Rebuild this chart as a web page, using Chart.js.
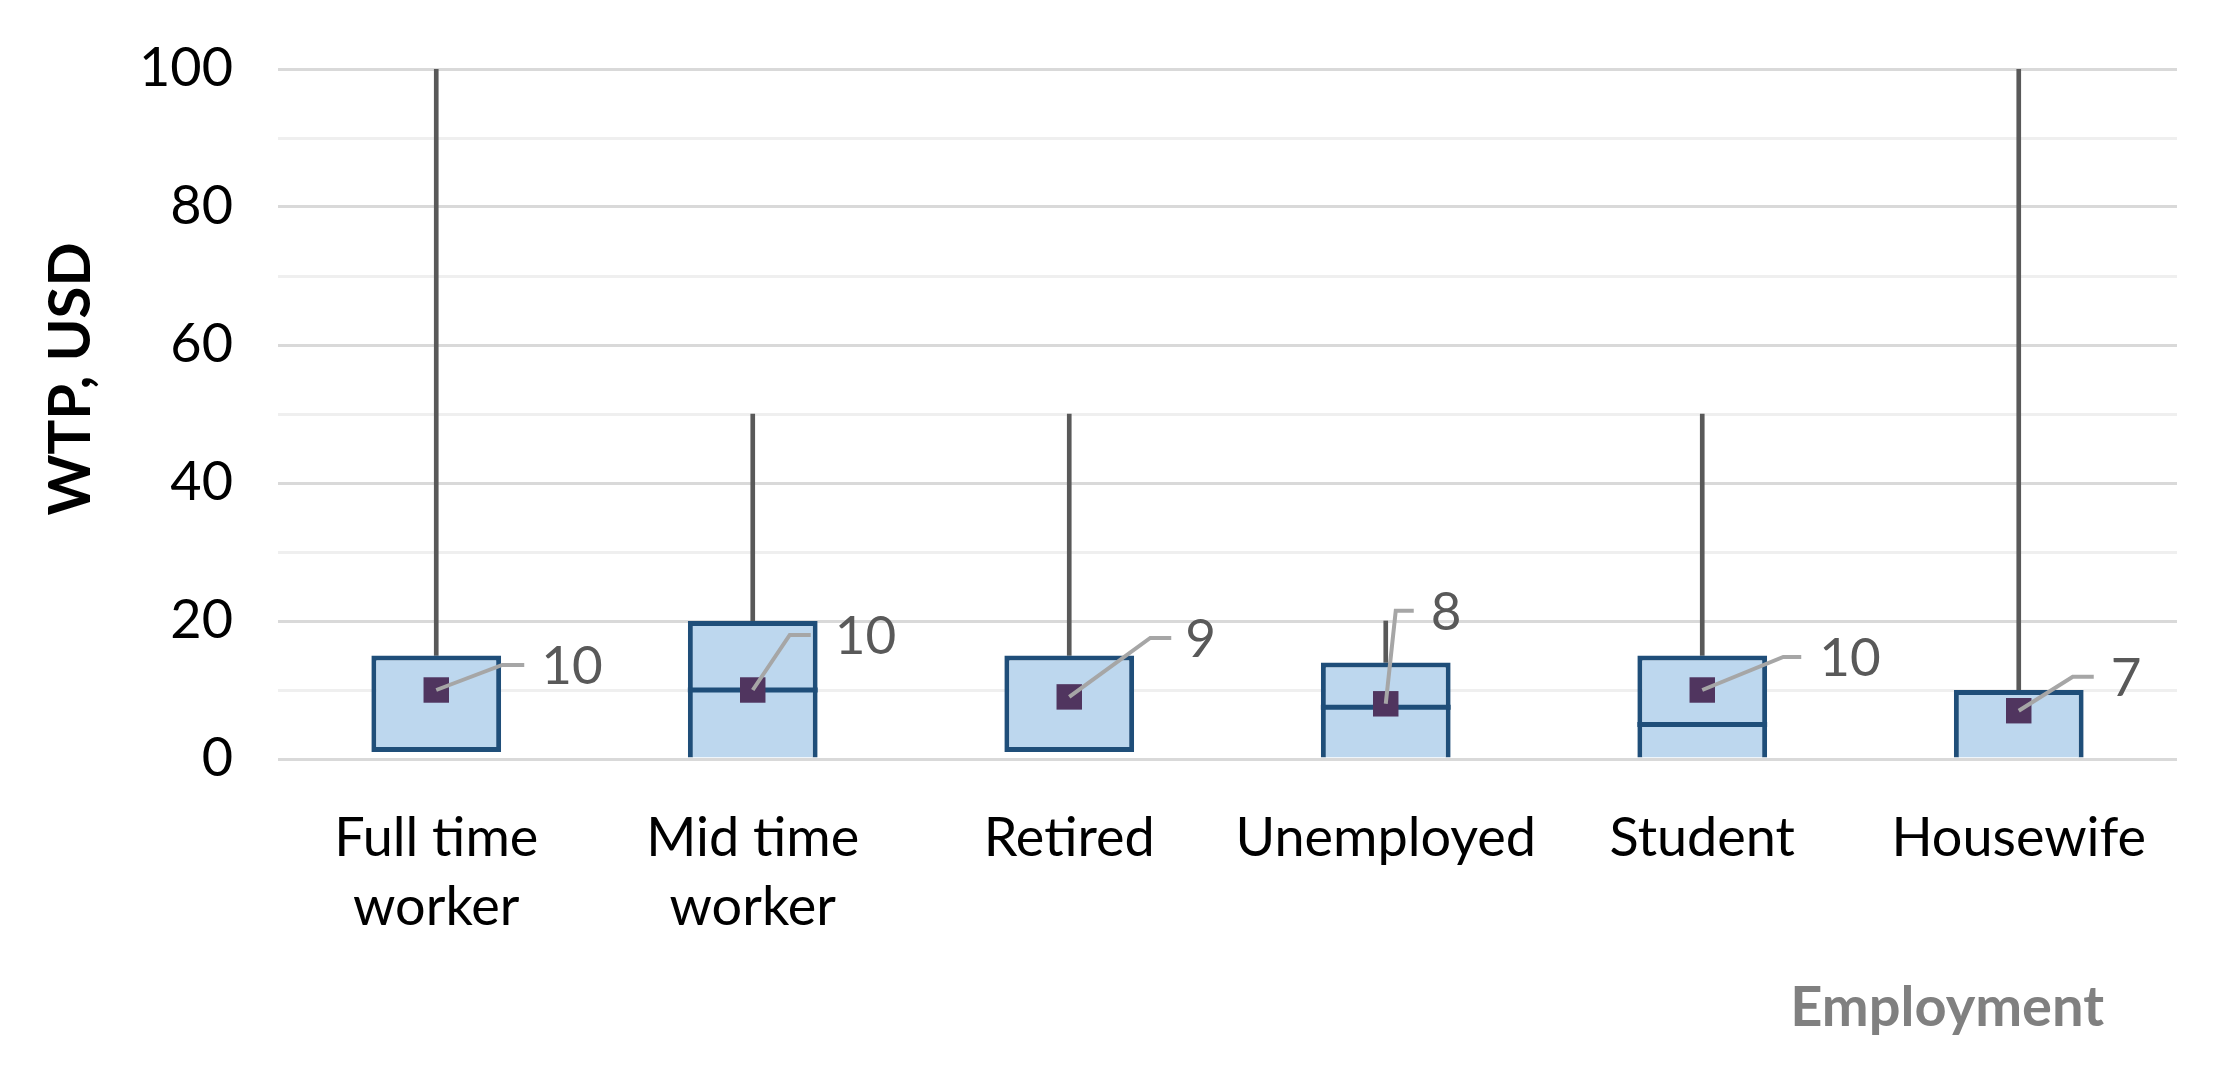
<!DOCTYPE html>
<html>
<head>
<meta charset="utf-8">
<script src="https://cdn.jsdelivr.net/npm/chart.js@4.4.1/dist/chart.umd.min.js"></script>
<style>
  body { margin: 0; background: #fff; }
</style>
</head>
<body>
<canvas id="box-chart" width="2217" height="1074"></canvas>
<script>
// dati
let categories = [['Full time', 'worker'], ['Mid time', 'worker'], 'Retired', 'Unemployed', 'Student', 'Housewife'];
let q1 = [1, 0, 1, 0, 0, 0];
let medians = [1, 10, 1, 7.5, 5, 0];
let q3 = [15, 20, 15, 14, 15, 10];
let maxs = [100, 50, 50, 20, 50, 100];
let means = [10, 10, 9, 8, 10, 7];
let yLabels = [0, 20, 40, 60, 80, 100];

// leader lines of the mean labels: elbow dx, elbow dy, end dx, text dx (pixels)
let leaders = [
    [66, -25, 88, 105],
    [37, -55, 58, 82],
    [81, -59, 102, 116],
    [10, -93, 28, 45],
    [81, -33, 99, 117],
    [54, -34, 75, 92]
];

let font = 'Lato';

let extras = {
    id: 'extras',
    afterDatasetDraw(chart, args) {
        if (args.index !== 0) return;
        let ctx = chart.ctx;
        let y = chart.scales.y;
        args.meta.data.forEach((bar, i) => {
            if (medians[i] === q1[i]) return;
            let py = y.getPixelForValue(medians[i]);
            ctx.save();
            ctx.strokeStyle = '#1F4E79';
            ctx.lineWidth = 5;
            ctx.beginPath();
            ctx.moveTo(bar.x - bar.width / 2, py);
            ctx.lineTo(bar.x + bar.width / 2, py);
            ctx.stroke();
            ctx.restore();
        });
    },
    afterDatasetsDraw(chart) {
        let ctx = chart.ctx;
        let meta = chart.getDatasetMeta(2);
        meta.data.forEach((pt, i) => {
            let [ex, ey, hx, tx] = leaders[i];
            ctx.save();
            ctx.strokeStyle = '#A6A6A6';
            ctx.lineWidth = 4;
            ctx.beginPath();
            ctx.moveTo(pt.x, pt.y);
            ctx.lineTo(pt.x + ex, pt.y + ey);
            ctx.lineTo(pt.x + hx, pt.y + ey);
            ctx.stroke();
            ctx.fillStyle = '#595959';
            ctx.font = '53px ' + font;
            ctx.textAlign = 'left';
            ctx.textBaseline = 'middle';
            ctx.fillText(String(means[i]), pt.x + tx, pt.y + ey + 2);
            ctx.restore();
        });
    },
    afterDraw(chart) {
        let ctx = chart.ctx;
        let area = chart.chartArea;
        ctx.save();
        // titolo asse y
        ctx.translate(71, area.top + 310);
        ctx.rotate(-Math.PI / 2);
        ctx.fillStyle = '#000';
        ctx.font = 'bold 58px ' + font;
        ctx.textAlign = 'center';
        ctx.textBaseline = 'middle';
        ctx.fillText('WTP, USD', 0, 0);
        ctx.restore();
        // titolo asse x
        ctx.save();
        ctx.fillStyle = '#808080';
        ctx.font = 'bold 56px ' + font;
        ctx.textAlign = 'right';
        ctx.textBaseline = 'middle';
        ctx.fillText('Employment', area.right - 73, area.bottom + 249);
        ctx.restore();
    }
};

let data = {
    labels: categories,
    datasets: [
        {
            type: 'bar',
            label: 'box',
            data: q1.map((v, i) => [v, q3[i]]),
            backgroundColor: '#BDD7EE',
            borderColor: '#1F4E79',
            borderWidth: 5,
            borderSkipped: ctx => q1[ctx.dataIndex] === 0 ? 'start' : false,
            barPercentage: 0.41,
            categoryPercentage: 1,
            grouped: false,
            order: 2
        },
        {
            type: 'bar',
            label: 'whisker',
            data: q3.map((v, i) => [v, maxs[i]]),
            backgroundColor: '#595959',
            barThickness: 4,
            grouped: false,
            order: 3
        },
        {
            type: 'line',
            label: 'mean',
            data: means,
            showLine: false,
            pointStyle: 'rect',
            pointRadius: 18,
            pointBackgroundColor: '#50355F',
            pointBorderWidth: 0,
            order: 0
        }
    ]
};

let config = {
    type: 'bar',
    data: data,
    plugins: [extras],
    options: {
        responsive: false,
        animation: false,
        layout: { padding: { top: 69, right: 40, left: 0, bottom: 0 } },
        plugins: {
            legend: { display: false },
            tooltip: { enabled: false }
        },
        scales: {
            x: {
                grid: { display: false },
                border: { display: false },
                ticks: {
                    color: '#000',
                    font: { family: font, size: 54, lineHeight: 1.28 },
                    padding: 37,
                    maxRotation: 0,
                    autoSkip: false
                },
                afterFit: scale => { scale.height = 315; }
            },
            y: {
                min: 0,
                max: 100,
                border: { display: false },
                grid: {
                    color: c => c.tick.value % 20 === 0 ? '#D9D9D9' : '#EFEFEF',
                    lineWidth: 3,
                    drawTicks: false
                },
                ticks: {
                    stepSize: 10,
                    color: '#000',
                    font: { family: font, size: 54 },
                    padding: 45,
                    callback: v => yLabels.includes(v) ? v : ''
                },
                afterFit: scale => {
                    scale.width = 278;
                    scale.paddingTop = 0;
                    scale.paddingBottom = 0;
                }
            }
        }
    }
};

let ctx = document.getElementById('box-chart').getContext('2d');
new Chart(ctx, config);
</script>
</body>
</html>
